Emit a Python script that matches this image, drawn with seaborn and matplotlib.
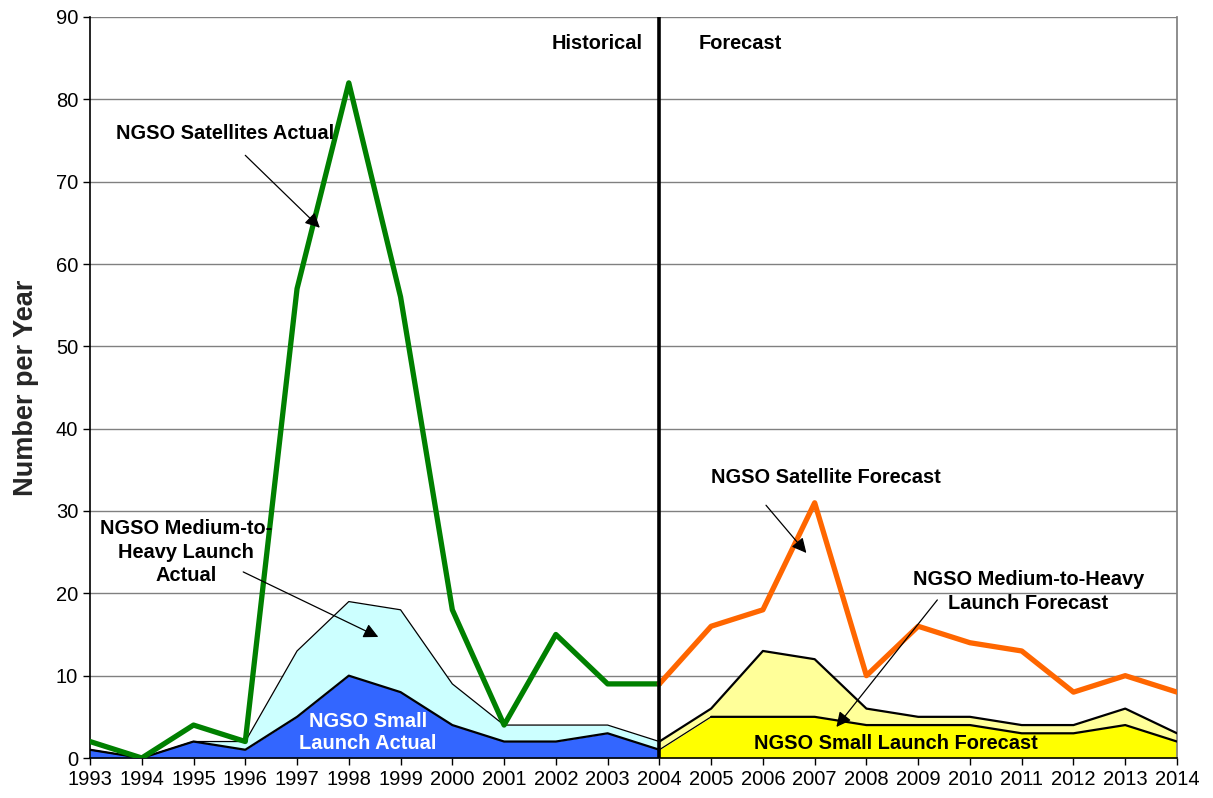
import numpy as np
import pandas as pd
import matplotlib
matplotlib.use("Agg")
import matplotlib.pyplot as plt
import seaborn as sns

# Historical period
hist_years = list(range(1993, 2005))
sat_actual = [2, 0, 4, 2, 57, 82, 56, 18, 4, 15, 9, 9]
small_actual = [1, 0, 2, 1, 5, 10, 8, 4, 2, 2, 3, 1]
medheavy_actual = [0, 0, 0, 1, 8, 9, 10, 5, 2, 2, 1, 1]

# Forecast period
fc_years = list(range(2004, 2015))
sat_forecast = [9, 16, 18, 31, 10, 16, 14, 13, 8, 10, 8]
small_forecast = [1, 5, 5, 5, 4, 4, 4, 3, 3, 4, 2]
medheavy_forecast = [1, 1, 8, 7, 2, 1, 1, 1, 1, 2, 1]

year_ticks = list(range(1993, 2015))
y_ticks = list(range(0, 91, 10))

hist = pd.DataFrame({"year": hist_years, "sat": sat_actual,
                     "small": small_actual, "med": medheavy_actual})
hist["total"] = hist["small"] + hist["med"]
fc = pd.DataFrame({"year": fc_years, "sat": sat_forecast,
                   "small": small_forecast, "med": medheavy_forecast})
fc["total"] = fc["small"] + fc["med"]

sns.set_theme(style="white")
plt.rcParams["font.family"] = ["Liberation Sans", "DejaVu Sans"]

fig = plt.figure(figsize=(12.13, 7.98), dpi=100)
ax = fig.add_axes([90 / 1213, 40 / 798, 1087 / 1213, 741 / 798])

# Stacked launch areas
ax.fill_between(hist["year"], 0, hist["small"], color="#3366FF", lw=0, zorder=2)
ax.fill_between(hist["year"], hist["small"], hist["total"], color="#CCFFFF", lw=0, zorder=2)
ax.fill_between(fc["year"], 0, fc["small"], color="#FFFF00", lw=0, zorder=2)
ax.fill_between(fc["year"], fc["small"], fc["total"], color="#FFFF99", lw=0, zorder=2)

# Area boundaries
sns.lineplot(data=hist, x="year", y="total", color="black", lw=0.9, ax=ax, zorder=3)
sns.lineplot(data=hist, x="year", y="small", color="black", lw=1.6, ax=ax, zorder=3)
sns.lineplot(data=fc, x="year", y="total", color="black", lw=1.6, ax=ax, zorder=3)
sns.lineplot(data=fc.iloc[:2], x="year", y="small", color="black", lw=0.9, ax=ax, zorder=3)
sns.lineplot(data=fc.iloc[1:], x="year", y="small", color="black", lw=1.6, ax=ax, zorder=3)

# Satellite counts
sns.lineplot(data=hist, x="year", y="sat", color="#008000", lw=3.8, ax=ax, zorder=4)
sns.lineplot(data=fc, x="year", y="sat", color="#FF6600", lw=3.8, ax=ax, zorder=4)

# Divider between history and forecast
ax.axvline(2004, color="black", lw=2.6, zorder=5)

ax.set_xlim(1993, 2014)
ax.set_ylim(0, 90)
ax.set_xticks(year_ticks)
ax.set_yticks(y_ticks)
ax.tick_params(axis="both", labelsize=14.5, colors="black", length=5, width=1,
               direction="out", bottom=True, left=True)
ax.yaxis.grid(True, color="#808080", lw=1, zorder=0)
ax.set_axisbelow(True)
ax.set_xlabel("")
ax.set_ylabel("Number per Year", fontsize=19.5, fontweight="bold", labelpad=12)
for s in ["left", "bottom"]:
    ax.spines[s].set_color("black")
    ax.spines[s].set_linewidth(1.2)
ax.spines["top"].set_visible(False)
ax.spines["right"].set_color("#808080")

lab = dict(fontsize=14.4, fontweight="bold", color="black", zorder=6)
arrow = dict(arrowstyle="-|>", color="black", lw=0.9, mutation_scale=22,
             shrinkA=0, shrinkB=0)

ax.text(2002.80, 86.8, "Historical", ha="center", va="center", **lab)
ax.text(2005.56, 86.8, "Forecast", ha="center", va="center", **lab)

ax.text(1995.61, 75.9, "NGSO Satellites Actual", ha="center", va="center", **lab)
ax.annotate("", xy=(1997.44, 64.4), xytext=(1996.0, 73.2), arrowprops=arrow, zorder=6)

ax.text(1994.86, 25.0, "NGSO Medium-to-\nHeavy Launch\nActual", ha="center",
        va="center", linespacing=1.3, **lab)
ax.annotate("", xy=(1998.57, 14.7), xytext=(1995.96, 22.6), arrowprops=arrow, zorder=6)

ax.text(1998.37, 3.1, "NGSO Small\nLaunch Actual", ha="center", va="center",
        linespacing=1.2, fontsize=14.4, fontweight="bold", color="white", zorder=6)

ax.text(2007.22, 34.1, "NGSO Satellite Forecast", ha="center", va="center", **lab)
ax.annotate("", xy=(2006.84, 24.9), xytext=(2006.06, 30.7), arrowprops=arrow, zorder=6)

ax.text(2011.13, 20.2, "NGSO Medium-to-Heavy\nLaunch Forecast", ha="center",
        va="center", linespacing=1.3, **lab)
ax.annotate("", xy=(2007.42, 3.77), xytext=(2009.37, 19.2), arrowprops=arrow, zorder=6)

ax.text(2008.56, 1.8, "NGSO Small Launch Forecast", ha="center", va="center",
        fontsize=14.4, fontweight="bold", color="black", zorder=6)

fig.savefig("out.png", dpi=100)
